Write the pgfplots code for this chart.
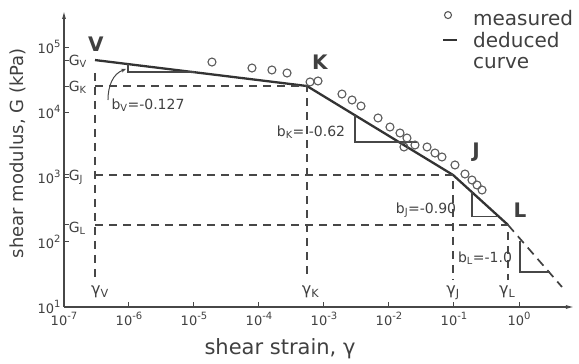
\documentclass[border=0pt]{standalone}
\usepackage{fontspec}
\setmainfont{DejaVu Sans}
\usepackage{pgfplots}
\pgfplotsset{compat=1.18}
\usetikzlibrary{arrows.meta}
\definecolor{ink}{gray}{0.28}
\definecolor{txt}{gray}{0.25}
\newcommand{\tl}[1]{10\raisebox{0.75ex}{\fontsize{10}{10}\selectfont #1}}
\begin{document}
\begin{tikzpicture}
\begin{loglogaxis}[
  at={(0,0)}, anchor=south west,
  width=511pt, height=297pt, scale only axis,
  xmin=1e-7, xmax=7.27, ymin=10, ymax=3.71e5,
  axis x line=bottom, axis y line=left,
  axis line style={draw=ink, line width=1.5pt, -{Latex[length=9pt,width=4pt]}},
  tick align=inside, major tick length=5pt,
  xminorticks=false, yminorticks=false,
  every tick/.style={draw=ink, line width=1pt},
  xtick={1e-7,1e-6,1e-5,1e-4,1e-3,1e-2,1e-1,1},
  xticklabels={\tl{-7},\tl{-6},\tl{-5},\tl{-4},\tl{-3},\tl{-2},\tl{-1},\tl{0}},
  ytick={10,100,1000,10000,100000},
  yticklabels={\tl{1},\tl{2},\tl{3},\tl{4},\tl{5}},
  extra y ticks={6.3e4,2.51e4,1075,183},
  extra y tick labels={},
  tick label style={font=\fontsize{13}{13}\selectfont, text=txt},
  xticklabel style={yshift=-2pt},
  xlabel={shear strain, γ},
  ylabel={shear modulus, G (kPa)},
  xlabel style={at={(axis description cs:0.4227,-0.1414)}, anchor=center, font=\fontsize{21}{21}\selectfont, text=txt},
  ylabel style={at={(axis description cs:-0.090,0.518)}, anchor=center, font=\fontsize{18}{18}\selectfont, text=txt},
  clip=false,
]
% measured points
\addplot[only marks, mark=o, mark size=4pt, mark options={draw=black!65, line width=1.1pt}] table {
x G
1.89e-5 5.87e4
7.80e-5 4.75e4
1.58e-4 4.43e4
2.70e-4 3.98e4
6.10e-4 2.90e4
8.09e-4 3.00e4
1.89e-3 1.89e4
2.70e-3 1.53e4
3.71e-3 1.236e4
6.78e-3 8090
1.035e-2 5875
1.476e-2 4753
1.89e-2 3981
1.70e-2 2897
2.51e-2 3105
3.85e-2 2897
5.10e-2 2339
6.53e-2 2032
0.1035 1531
0.1476 1112
0.189 899
0.226 753
0.270 631
};
% deduced curve
\addplot[draw=black!80, line width=2.3pt] coordinates {(3.0e-7,6.3e4) (5.47e-4,2.51e4) (9.66e-2,1075) (0.678,183)};
\addplot[draw=black!75, line width=1.7pt, dash pattern=on 9pt off 6pt] coordinates {(0.678,183) (4.59,20.3)};
% reference dashed lines
\addplot[draw=ink, line width=1.2pt, dash pattern=on 8pt off 6pt] coordinates {(3.0e-7,4.0e4) (3.0e-7,26)};
\addplot[draw=ink, line width=1.2pt, dash pattern=on 8pt off 6pt] coordinates {(3.0e-7,2.51e4) (5.47e-4,2.51e4) (5.47e-4,26)};
\addplot[draw=ink, line width=1.2pt, dash pattern=on 8pt off 6pt] coordinates {(3.0e-7,1075) (9.66e-2,1075) (9.66e-2,26)};
\addplot[draw=ink, line width=1.2pt, dash pattern=on 8pt off 6pt] coordinates {(3.0e-7,183) (0.678,183) (0.678,26)};
% slope triangles
\addplot[draw=ink, line width=1.1pt] coordinates {(9.66e-7,5.47e4) (9.66e-7,4.12e4) (1.035e-5,4.12e4)};
\addplot[draw=ink, line width=1.1pt] coordinates {(3.0e-3,8900) (3.0e-3,3450) (2.70e-2,3450)};
\addplot[draw=ink, line width=1.1pt] coordinates {(0.189,583) (0.189,243) (0.475,243)};
\addplot[draw=ink, line width=1.1pt] coordinates {(1.036,105) (1.036,34.5) (3.0,34.5)};
\draw[draw=ink, line width=1pt, -{Stealth[length=5pt,width=4pt]}] (axis cs:4.75e-7,1.53e4) to[out=90,in=200] (axis cs:9.0e-7,4.59e4);
% labels
\node[text=txt, font=\fontsize{20}{20}\selectfont\bfseries] at (axis cs:3.1e-7,1.11e5) {V};
\node[text=txt, font=\fontsize{20}{20}\selectfont\bfseries] at (axis cs:8.67e-4,5.88e4) {K};
\node[text=txt, font=\fontsize{20}{20}\selectfont\bfseries] at (axis cs:0.218,2425) {J};
\node[text=txt, font=\fontsize{20}{20}\selectfont\bfseries] at (axis cs:1.036,310) {L};
\node[text=txt, font=\fontsize{14}{14}\selectfont] at (axis cs:1.96e-6,1.28e4) {b\textsubscript{V}=-0.127};
\node[text=txt, font=\fontsize{14}{14}\selectfont] at (axis cs:6.31e-4,4920) {b\textsubscript{K}= -0.62};
\node[text=txt, font=\fontsize{14}{14}\selectfont] at (axis cs:3.71e-2,310) {b\textsubscript{J}=-0.90};
\node[text=txt, font=\fontsize{14}{14}\selectfont] at (axis cs:0.300,56.8) {b\textsubscript{L}=-1.0};
\node[text=txt, anchor=west, inner sep=0pt, font=\fontsize{14}{14}\selectfont] at (axis cs:1.18e-7,6.1e4) {G\textsubscript{V}};
\node[text=txt, anchor=west, inner sep=0pt, font=\fontsize{14}{14}\selectfont] at (axis cs:1.18e-7,2.43e4) {G\textsubscript{K}};
\node[text=txt, anchor=west, inner sep=0pt, font=\fontsize{14}{14}\selectfont] at (axis cs:1.18e-7,1000) {G\textsubscript{J}};
\node[text=txt, anchor=west, inner sep=0pt, font=\fontsize{14}{14}\selectfont] at (axis cs:1.18e-7,164) {G\textsubscript{L}};
\node[text=txt, font=\fontsize{16}{16}\selectfont] at (axis cs:3.58e-7,17.0) {γ\textsubscript{V}};
\node[text=txt, font=\fontsize{16}{16}\selectfont] at (axis cs:6.2e-4,17.0) {γ\textsubscript{K}};
\node[text=txt, font=\fontsize{16}{16}\selectfont] at (axis cs:9.66e-2,16.5) {γ\textsubscript{J}};
\node[text=txt, font=\fontsize{16}{16}\selectfont] at (axis cs:0.66,17.0) {γ\textsubscript{L}};
% legend
\addplot[only marks, mark=o, mark size=3.5pt, mark options={draw=black!65, line width=1.1pt}] coordinates {(8.09e-2,3.10e5)};
\addplot[draw=black!80, line width=2.3pt] coordinates {(6.78e-2,1.28e5) (0.111,1.28e5)};
\node[text=txt, anchor=west, inner sep=0pt, font=\fontsize{20}{20}\selectfont] at (axis cs:0.196,2.79e5) {measured};
\node[text=txt, anchor=west, inner sep=0pt, font=\fontsize{20}{20}\selectfont] at (axis cs:0.196,1.28e5) {deduced};
\node[text=txt, anchor=west, inner sep=0pt, font=\fontsize{20}{20}\selectfont] at (axis cs:0.196,5.68e4) {curve};
\end{loglogaxis}
\pgfresetboundingbox
\path[use as bounding box] (-64pt,-57pt) rectangle (515pt,307pt);
\end{tikzpicture}
\end{document}
